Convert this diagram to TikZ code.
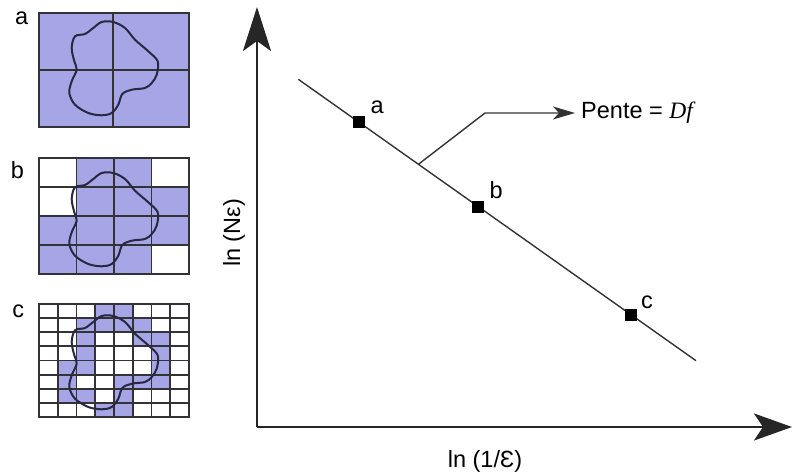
\documentclass[tikz,border=0pt]{standalone}
\usepackage{fontspec}
\setmainfont{Liberation Sans}
\newfontfamily\dffont{Liberation Serif}
\usetikzlibrary{calc,positioning,arrows.meta}

\definecolor{cellblue}{RGB}{166,166,230}
\definecolor{gridgray}{RGB}{50,50,55}
\definecolor{blobline}{RGB}{40,40,65}

\tikzset{
    gridline/.style={gridgray, line width=1.8pt},
    blob/.style={blobline, line width=2pt},
    axisline/.style={black!85, line width=2.6pt},
    dataline/.style={black!80, line width=1.4pt},
    datamark/.style={fill=black, inner sep=0pt, minimum size=12pt},
    lbl/.style={font=\fontsize{23.5}{27}\selectfont, inner sep=1pt},
    blobshape/.pic={
        \draw[blob] plot[smooth cycle, tension=0.55] coordinates {
            (62.7,105) (74.3,105) (86,99) (96,87.3) (109.3,75.7) (118.7,65.7)
            (117.7,52.3) (112.7,44) (106,39) (92.7,37.3) (83.3,33) (79.3,22.3)
            (72.7,14) (62.7,11.7) (49.3,14) (36,22.3) (30.3,34) (32.7,45.7)
            (37.7,57.3) (35.3,65.7) (32.7,79) (36,90.7) (46,93) (54.3,99)};
    }
}

\begin{document}
\begin{tikzpicture}[x=1pt, y=1pt]
    \useasboundingbox (0,0) rectangle (792,472);

    % ---- Panel a : 2 x 2 boxes ----
    \begin{scope}[shift={(39,345)}]
        \fill[cellblue] (0,0) rectangle (150,114);
        \draw[gridline] (74,0) -- (74,114) (0,57) -- (150,57);
        \draw[gridline] (0,0) rectangle (150,114);
        \pic at (0,0) {blobshape};
    \end{scope}

    % ---- Panel b : 4 x 4 boxes ----
    \begin{scope}[shift={(39,198)}]
        \fill[cellblue] (0,0) rectangle (150,116);
        \foreach \r/\c in {0/0,0/3,1/0,3/3}
            \fill[white] (\c*37.5,116-\r*29) rectangle ++(37.5,-29);
        \foreach \i in {1,2,3} {
            \draw[gridline] (\i*37.5,0) -- ++(0,116);
            \draw[gridline] (0,\i*29) -- ++(150,0);
        }
        \draw[gridline] (0,0) rectangle (150,116);
        \pic at (0,-4) {blobshape};
    \end{scope}

    % ---- Panel c : 8 x 8 boxes ----
    \begin{scope}[shift={(39,55)}]
        \fill[white] (0,0) rectangle (150,113);
        \foreach \r/\c in {0/3,0/4,1/2,1/3,1/4,1/5,2/2,2/5,2/6,3/2,3/6,
                           4/1,4/2,4/6,5/1,5/4,5/5,5/6,6/1,6/2,6/4,7/3,7/4}
            \fill[cellblue] (\c*18.75,113-\r*14.125) rectangle ++(18.75,-14.125);
        \foreach \i in {1,...,7} {
            \draw[gridline] (\i*18.75,0) -- ++(0,113);
            \draw[gridline] (0,\i*14.125) -- ++(150,0);
        }
        \draw[gridline] (0,0) rectangle (150,113);
        \pic at (0,-4) {blobshape};
    \end{scope}

    % Panel labels
    \node[lbl] (pa) at (21.7,453.7) {a};
    \node[lbl] (pb) at (17.3,302) {b};
    \node[lbl] (pc) at (18.3,160.3) {c};

    % ---- Log-log plot ----
    \coordinate (O) at (257,45);
    \coordinate (ytip) at (257,465);
    \coordinate (xtip) at (792,45);
    \draw[axisline, -{Stealth[length=44pt, width=28pt, inset=10pt]}] (O) -- (ytip);
    \draw[axisline, -{Stealth[length=38pt, width=27pt, inset=9pt]}] (O) -- (xtip);

    \node[lbl, rotate=90] (ylab) at (234,239) {ln (Nε)};
    \node[lbl] (xlab) at (485,10.3) {ln (1/Ɛ)};

    % Fitted line and box counts
    \coordinate (L1) at (298.3,392.7);
    \coordinate (L2) at (696,111.3);
    \draw[dataline] (L1) -- (L2);

    \node[datamark] (mka) at ($(L1)!0.153!(L2)$) {};
    \node[datamark] (mkb) at ($(L1)!0.4526!(L2)$) {};
    \node[datamark] (mkc) at ($(L1)!0.836!(L2)$) {};
    \node[lbl, above right=1pt and 4pt of mka] (la) {a};
    \node[lbl, above right=1pt and 4pt of mkb] (lb) {b};
    \node[lbl, above right=-2pt and 3pt of mkc] (lc) {c};

    % Slope label
    \coordinate (pj) at ($(L1)!0.302!(L2)$);
    \node[lbl, anchor=west, inner xsep=6pt] (pente) at (575,359)
        {Pente = {\dffont\itshape Df}};
    \coordinate (pbend) at ($(pente.west)+(-90,0)$);
    \draw[dataline, -{Stealth[length=22pt, width=13pt, inset=6pt]}]
        (pj) -- (pbend) -- (pente.west);
\end{tikzpicture}
\end{document}
